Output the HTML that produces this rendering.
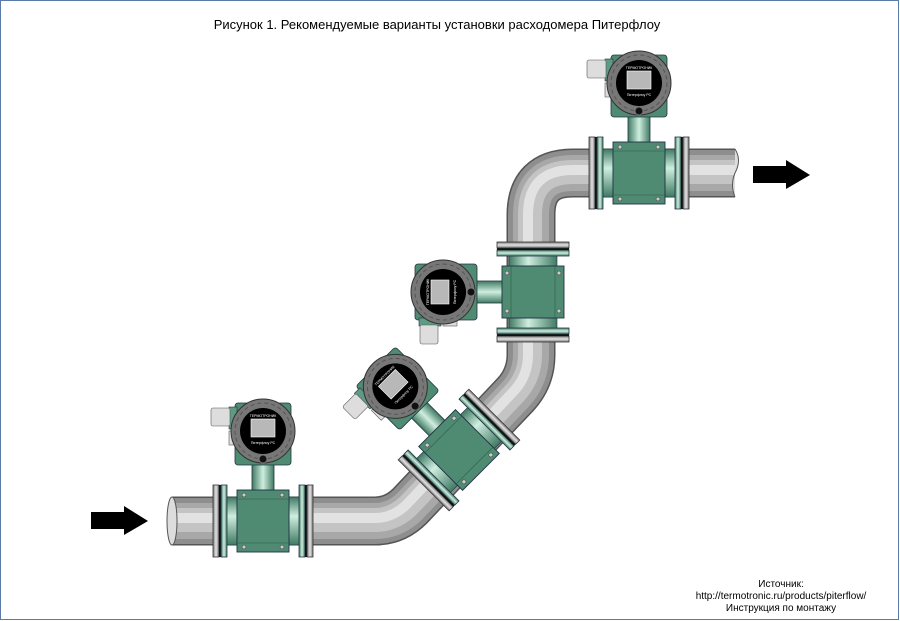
<!DOCTYPE html>
<html><head><meta charset="utf-8"><style>
html,body{margin:0;padding:0;background:#fff;}
svg{display:block;}
</style></head><body>
<svg width="900" height="621" viewBox="0 0 900 621" xmlns="http://www.w3.org/2000/svg" font-family="Liberation Sans, sans-serif">
<defs>
<linearGradient id="gH" x1="0" y1="0" x2="1" y2="0">
<stop offset="0" stop-color="#3f7a62"/><stop offset="0.5" stop-color="#cfeee0"/><stop offset="1" stop-color="#3f7a62"/></linearGradient>
<linearGradient id="gV" x1="0" y1="0" x2="0" y2="1">
<stop offset="0" stop-color="#3f7a62"/><stop offset="0.4" stop-color="#cfeee0"/><stop offset="1" stop-color="#3f7a62"/></linearGradient>
<linearGradient id="gF" x1="0" y1="0" x2="1" y2="0">
<stop offset="0" stop-color="#777"/><stop offset="0.5" stop-color="#e4e4e4"/><stop offset="1" stop-color="#777"/></linearGradient>
<g id="meter">
 <rect x="-11" y="-58" width="22" height="28" fill="url(#gH)" stroke="#234" stroke-width="0.8"/>
 <rect x="-28" y="-118" width="56" height="62" rx="3" fill="#4f8a72" stroke="#234" stroke-width="0.8"/>
 <rect x="-34" y="-114" width="8" height="22" fill="#5f9a82" stroke="#234" stroke-width="0.6"/>
 <rect x="-52" y="-113" width="19" height="18" rx="2" fill="#ddd" stroke="#555" stroke-width="0.6"/>
 <rect x="-34" y="-90" width="7" height="14" fill="#ddd" stroke="#555" stroke-width="0.6"/>
 <circle cx="0" cy="-90" r="32" fill="#777" stroke="#333" stroke-width="1"/>
 <circle cx="0" cy="-90" r="28" fill="none" stroke="#555" stroke-width="1" stroke-dasharray="4 3"/>
 <circle cx="0" cy="-90" r="23" fill="#000"/>
 <rect x="-12" y="-102" width="24" height="18" fill="#b8b8b8" stroke="#fff" stroke-width="0.6"/>
 <text x="0" y="-104" font-size="3.5" fill="#fff" text-anchor="middle">ТЕРМОТРОНИК</text>
 <text x="0" y="-77" font-size="3.5" fill="#fff" text-anchor="middle">Питерфлоу РС</text>
 <circle cx="0" cy="-62" r="4" fill="#111" stroke="#777"/>
 <rect x="-40" y="-24" width="14" height="48" fill="url(#gV)" stroke="#234" stroke-width="0.6"/>
 <rect x="26" y="-24" width="14" height="48" fill="url(#gV)" stroke="#234" stroke-width="0.6"/>
 <rect x="-50" y="-36" width="6" height="72" fill="url(#gF)" stroke="#333" stroke-width="0.8"/>
 <rect x="-44" y="-36" width="2" height="72" fill="#111"/>
 <rect x="-42" y="-36" width="6" height="72" fill="url(#gH)" stroke="#234" stroke-width="0.8"/>
 <rect x="36" y="-36" width="6" height="72" fill="url(#gH)" stroke="#234" stroke-width="0.8"/>
 <rect x="42" y="-36" width="2" height="72" fill="#111"/>
 <rect x="44" y="-36" width="6" height="72" fill="url(#gF)" stroke="#333" stroke-width="0.8"/>
 <rect x="-26" y="-31" width="52" height="62" fill="#4f8a72" stroke="#234" stroke-width="0.9"/>
 <line x1="-26" y1="-22" x2="26" y2="-22" stroke="#2f5a4a" stroke-width="0.6"/>
 <line x1="-26" y1="22" x2="26" y2="22" stroke="#2f5a4a" stroke-width="0.6"/>
 <g fill="#ccc" stroke="#333" stroke-width="0.5">
 <circle cx="-19" cy="-26" r="2"/><circle cx="19" cy="-26" r="2"/>
 <circle cx="-19" cy="26" r="2"/><circle cx="19" cy="26" r="2"/></g>
</g>
</defs>
<rect x="0.5" y="0.5" width="898" height="619" fill="#fff" stroke="#5a7aa8" stroke-width="1"/>
<text x="437" y="29" font-size="13" text-anchor="middle" fill="#000">Рисунок 1. Рекомендуемые варианты установки расходомера Питерфлоу</text>
<g fill="none" stroke-linejoin="round">
<path d="M172,521 L375,521 Q395,521 410,506 L515,395 Q531,378 531,355 L531,215 Q531,173 573,173 L735,173" stroke="#555" stroke-width="49"/>
<path d="M172,521 L375,521 Q395,521 410,506 L515,395 Q531,378 531,355 L531,215 Q531,173 573,173 L735,173" stroke="#8e8e8e" stroke-width="46"/>
<path d="M172,521 L375,521 Q395,521 410,506 L515,395 Q531,378 531,355 L531,215 Q531,173 573,173 L735,173" stroke="#a8a8a8" stroke-width="36"/>
<path d="M172,520 L375,520 Q394,520 409,505 L514,394 Q530,377 530,355 L530,215 Q530,172 573,172 L735,172" stroke="#c4c4c4" stroke-width="24"/>
<path d="M172,518 L375,518 Q393,518 407,504 L512,393 Q528,377 528,355 L528,215 Q528,170 573,170 L735,170" stroke="#e2e2e2" stroke-width="10"/>
</g>
<ellipse cx="172" cy="521" rx="5" ry="24" fill="#ddd" stroke="#555"/>
<path d="M735,149 Q742,160 735,173 Q730,185 735,197" fill="#ddd" stroke="#555"/>
<use href="#meter" transform="translate(263,521)"/>
<use href="#meter" transform="translate(639,173)"/>
<use href="#meter" transform="translate(533,292) rotate(-90)"/>
<use href="#meter" transform="translate(459,450) rotate(-45)"/>
<polygon points="91,512 124,512 124,506 148,521 124,535 124,529 91,529" fill="#000"/>
<polygon points="753,166 786,166 786,160 810,175 786,189 786,183 753,183" fill="#000"/>
<g font-size="10" text-anchor="middle" fill="#000">
<text x="781" y="587">Источник:</text>
<text x="781" y="599">http://termotronic.ru/products/piterflow/</text>
<text x="781" y="611">Инструкция по монтажу</text>
</g>
</svg>
</body></html>
